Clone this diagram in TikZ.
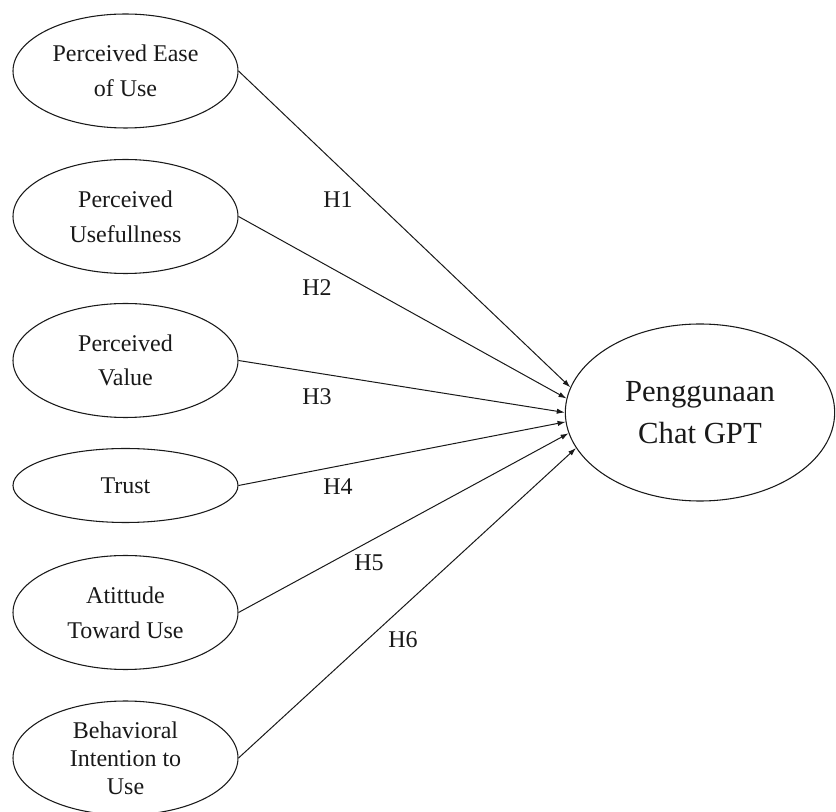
\documentclass[tikz,border=0pt]{standalone}
\usepackage{fontspec}
\setmainfont{Liberation Serif}
\usetikzlibrary{shapes.geometric,arrows.meta}
\begin{document}
\begin{tikzpicture}[x=0.75pt,y=-0.75pt,
  lat/.style={draw=black!90, line width=0.8pt, ellipse, inner sep=0pt,
    minimum width=168.75pt, minimum height=85.5pt, align=center,
    font=\fontsize{18}{26}\selectfont, text=black!90},
  conn/.style={draw=black!90, line width=0.75pt, -{Latex[length=6pt,width=4pt]}},
  hyp/.style={font=\fontsize{18}{22}\selectfont, text=black!90, inner sep=0pt}]
\useasboundingbox (0,0) rectangle (836,812);

\node[lat] (e1) at (125.5,71) {Perceived Ease\\of Use};
\node[lat] (e2) at (125.5,216.5) {Perceived\\Usefullness};
\node[lat] (e3) at (125.5,360.5) {Perceived\\Value};
\node[lat, minimum height=55.5pt] (e4) at (125.5,485.5) {Trust};
\node[lat] (e5) at (125.5,612.5) {Atittude\\Toward Use};
\node[lat, font=\fontsize{18}{21}\selectfont] (e6) at (125.5,758) {Behavioral\\Intention to\\Use};

\node[lat, minimum width=202pt, minimum height=132.75pt,
  font=\fontsize{23}{32}\selectfont] (p) at (700,412.5) {Penggunaan\\Chat GPT};

\draw[conn] (e1.east) -- (p.169.9);
\draw[conn] (e2.east) -- (p.174.4);
\draw[conn] (e3.east) -- (p.180);
\draw[conn] (e4.east) -- (p.184.4);
\draw[conn] (e5.east) -- (p.189.7);
\draw[conn] (e6.east) -- (p.196.5);

\node[hyp] (h1) at (338,200) {H1};
\node[hyp] (h2) at (317,288) {H2};
\node[hyp] (h3) at (317,397) {H3};
\node[hyp] (h4) at (338,487) {H4};
\node[hyp] (h5) at (369,563) {H5};
\node[hyp] (h6) at (403,640) {H6};
\end{tikzpicture}
\end{document}
